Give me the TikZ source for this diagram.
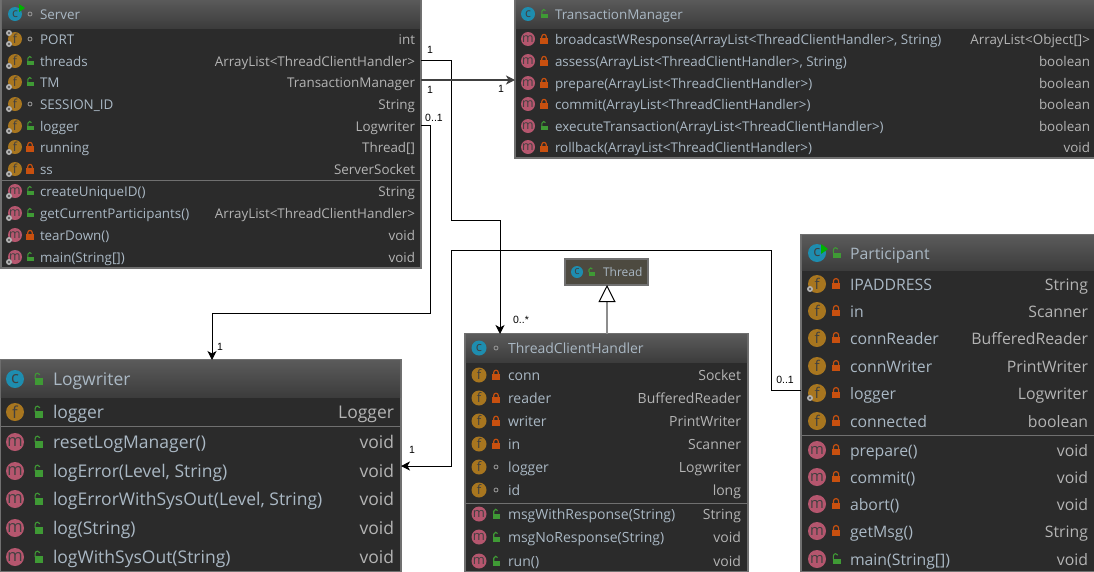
\documentclass[tikz,border=0pt]{standalone}
\usepackage{fontspec}
\setmainfont{Open Sans}
\newfontfamily\cardfont{Liberation Sans}
\usetikzlibrary{arrows.meta}
\definecolor{bodyc}{HTML}{2B2B2B}
\definecolor{edgec}{HTML}{707070}
\definecolor{headt}{HTML}{5A5A5A}
\definecolor{headb}{HTML}{3C3C3C}
\definecolor{namec}{HTML}{AAB8C4}
\definecolor{typec}{HTML}{B4B4B4}
\definecolor{iconc}{HTML}{1E8DAF}
\definecolor{iconf}{HTML}{A8761F}
\definecolor{iconm}{HTML}{B5566E}
\definecolor{lockg}{HTML}{3F9A35}
\definecolor{lockr}{HTML}{C8500F}
\definecolor{thrc}{HTML}{4D4A40}
\newcount\rowid
\newcommand{\fsz}{12.5}
\newcommand{\fszi}{11.5}
\newcommand{\bsl}{4}
\newcommand{\lks}{1}
\newcommand{\icr}{7}
\newcommand{\ix}{0}\newcommand{\lx}{0}\newcommand{\tx}{0}\newcommand{\rx}{0}
\newcommand{\setcols}[6]{\renewcommand{\ix}{#1}\renewcommand{\lx}{#2}\renewcommand{\tx}{#3}\renewcommand{\rx}{#4}\renewcommand{\icr}{#5}\renewcommand{\fsz}{#6}\pgfmathsetmacro\fszi{#6-1}\pgfmathsetmacro\bsl{0.35*#6+0.7}\pgfmathsetmacro\lks{#6/13.4}}
\newcommand{\fnt}{\fontsize{\fsz}{\fsz}\selectfont}
% access marker: o open lock, r closed lock, p package ring
\newcommand{\access}[3]{%
  \def\kind{#3}\def\kO{o}\def\kR{r}%
  \ifx\kind\kO
    \begin{scope}[shift={(#1,#2)},scale=\lks]
    \fill[lockg] (-2.6,-0.4) rectangle (4.2,4.4);
    \draw[lockg,line width=1.1pt] (-2.2,0) -- (-2.2,-2.6) arc[start angle=180,end angle=340,radius=1.9];
    \end{scope}
  \else\ifx\kind\kR
    \begin{scope}[shift={(#1,#2)},scale=\lks]
    \fill[lockr] (-3.6,-0.8) rectangle (3.6,4.6);
    \draw[lockr,line width=1.2pt] (-2.2,-0.8) -- (-2.2,-2.4) arc[start angle=180,end angle=360,radius=2.2] -- (2.2,-0.8);
    \end{scope}
  \else
    \draw[typec!80!black,line width=.9pt] (#1,#2) circle[radius=2];
  \fi\fi}
% small gear marker for static members
\newcommand{\statm}[2]{\fill[gray!60] (#1,#2) circle[radius=3]; \fill[bodyc!70!gray] (#1,#2) circle[radius=1.1];}
% #1 y, #2 icon letter, #3 access, #4 name, #5 type
\newcommand{\mrow}[5]{%
  \global\advance\rowid by 1
  \node[iconn,fill=icon#2,minimum size=2*\icr pt,font=\fontsize{\fszi}{\fszi}\selectfont] (ic\the\rowid) at (\ix,#1) {#2};
  \access{\lx}{#1}{#3}
  \node[rowtext,anchor=base west] (nm\the\rowid) at (\tx,#1+\bsl) {\fnt #4};
  \node[typetext,anchor=base east] (ty\the\rowid) at (\rx,#1+\bsl) {\fnt #5};}
\newcommand{\umlbox}[7]{% id x0 y0 x1 y1 headbottom fillc
  \pgfmathsetmacro\boxw{#4-#2}\pgfmathsetmacro\boxh{#5-#3}
  \node[boxn,fill=#7,minimum width=\boxw pt,minimum height=\boxh pt,anchor=north west] (#1) at (#2,#3) {};
  \ifdim #6pt>0pt
  \fill[top color=headt,bottom color=headb] (#2+.8,#3+.8) rectangle (#4-.8,#6);
  \fi}
\newcommand{\divider}[3]{\draw[edgec,line width=1pt] (#1,#3) -- (#2,#3);}
\tikzset{
  x=1pt,y=-1pt,
  boxn/.style={draw=edgec,line width=1.4pt,inner sep=0pt,outer sep=0pt},
  iconn/.style={circle,inner sep=0pt,outer sep=0pt,text=black!75},
  rowtext/.style={text=namec,inner sep=0pt,outer sep=0pt},
  typetext/.style={text=typec,inner sep=0pt,outer sep=0pt},
  conn/.style={black,line width=1pt,-{Stealth[length=9pt,width=9pt,inset=2.5pt]}},
  card/.style={black,inner sep=0pt,font=\cardfont\fontsize{10.5}{10.5}\selectfont},
}
\begin{document}
\begin{tikzpicture}
\useasboundingbox (0,0) rectangle (1094,571);
\fill[white] (0,0) rectangle (1094,571);
% ---------- Server
\umlbox{server}{1}{-1}{421}{268}{28}{bodyc}
\setcols{15}{30}{40}{415}{7}{13.4}
\mrow{14}{c}{p}{Server}{}
\fill[green!70!black] (19,4) -- (19,12) -- (25,8) -- cycle;
\mrow{39}{f}{p}{PORT}{int}\statm{9}{44}\statm{9}{33}
\mrow{61}{f}{o}{threads}{ArrayList<ThreadClientHandler>}\statm{9}{66}
\mrow{82}{f}{o}{TM}{TransactionManager}\statm{9}{87}
\mrow{104}{f}{p}{SESSION\_ID}{String}\statm{9}{109}
\mrow{126}{f}{o}{logger}{Logwriter}\statm{9}{131}
\mrow{147}{f}{r}{running}{Thread[]}\statm{9}{152}
\mrow{169}{f}{r}{ss}{ServerSocket}\statm{9}{174}
\divider{1}{421}{180}
\mrow{191}{m}{o}{createUniqueID()}{String}\statm{9}{196}
\mrow{213}{m}{o}{getCurrentParticipants()}{ArrayList<ThreadClientHandler>}\statm{9}{218}
\mrow{235}{m}{r}{tearDown()}{void}\statm{9}{240}
\mrow{257}{m}{o}{main(String[])}{void}\statm{9}{262}
% ---------- TransactionManager
\umlbox{tm}{515}{-1}{1095}{158}{28}{bodyc}
\setcols{528}{544}{555}{1090}{7}{13.4}
\mrow{14}{c}{o}{TransactionManager}{}
\mrow{39}{m}{r}{broadcastWResponse(ArrayList<ThreadClientHandler>, String)}{ArrayList<Object[]>}
\mrow{61}{m}{r}{assess(ArrayList<ThreadClientHandler>, String)}{boolean}
\mrow{83}{m}{r}{prepare(ArrayList<ThreadClientHandler>)}{boolean}
\mrow{104}{m}{r}{commit(ArrayList<ThreadClientHandler>)}{boolean}
\mrow{126}{m}{o}{executeTransaction(ArrayList<ThreadClientHandler>)}{boolean}
\mrow{147}{m}{r}{rollback(ArrayList<ThreadClientHandler>)}{void}
% ---------- Logwriter
\umlbox{log}{0}{360}{401}{572}{397}{bodyc}
\setcols{15}{38}{53}{394}{9}{17.5}
\mrow{379}{c}{o}{Logwriter}{}
\mrow{412}{f}{o}{logger}{Logger}
\divider{0}{401}{426}
\mrow{442}{m}{o}{resetLogManager()}{void}
\mrow{471}{m}{o}{logError(Level, String)}{void}
\mrow{499}{m}{o}{logErrorWithSysOut(Level, String)}{void}
\mrow{528}{m}{o}{log(String)}{void}
\mrow{557}{m}{o}{logWithSysOut(String)}{void}
% ---------- Thread
\umlbox{thr}{565}{259}{648}{285}{0}{thrc}
\setcols{577}{591}{603}{640}{6}{12}
\mrow{272}{c}{o}{Thread}{}
% ---------- ThreadClientHandler
\umlbox{tch}{465}{334}{748}{572}{362}{bodyc}
\setcols{479}{496}{508}{741}{7.5}{14}
\mrow{348}{c}{p}{ThreadClientHandler}{}
\mrow{375}{f}{r}{conn}{Socket}
\mrow{398}{f}{r}{reader}{BufferedReader}
\mrow{421}{f}{r}{writer}{PrintWriter}
\mrow{444}{f}{r}{in}{Scanner}
\mrow{467}{f}{p}{logger}{Logwriter}
\mrow{490}{f}{p}{id}{long}
\divider{465}{748}{503}
\mrow{514}{m}{o}{msgWithResponse(String)}{String}
\mrow{537}{m}{o}{msgNoResponse(String)}{void}
\mrow{561}{m}{o}{run()}{void}
% ---------- Participant
\umlbox{part}{801}{235}{1095}{572}{270}{bodyc}
\setcols{817}{836}{850}{1088}{9}{15.8}
\mrow{253}{c}{o}{Participant}{}
\fill[green!70!black] (821,244) -- (821,254) -- (828,249) -- cycle;
\mrow{284}{f}{r}{IPADDRESS}{String}\statm{810}{289}
\mrow{311}{f}{r}{in}{Scanner}
\mrow{338}{f}{r}{connReader}{BufferedReader}
\mrow{366}{f}{r}{connWriter}{PrintWriter}
\mrow{393}{f}{r}{logger}{Logwriter}\statm{810}{398}
\mrow{421}{f}{r}{connected}{boolean}
\divider{801}{1094}{435}
\mrow{450}{m}{r}{prepare()}{void}
\mrow{477}{m}{r}{commit()}{void}
\mrow{504}{m}{r}{abort()}{void}
\mrow{531}{m}{r}{getMsg()}{String}
\mrow{559}{m}{o}{main(String[])}{void}
% ---------- Connectors
\coordinate (yThreads) at (0,60);
\coordinate (yTM) at (0,80);
\coordinate (yLogger) at (0,125);
\coordinate (yPart) at (0,390);
\coordinate (yLog) at (0,466);
\coordinate (xTch) at (500,0);
\coordinate (xLog) at (212,0);
\coordinate (xThr) at (607,0);
\draw[conn] (server.east |- yThreads) -- (451,60) -- (451,220) -- (500,220) -- (tch.north -| xTch);
\draw[conn,line width=1.3pt,black!75] (server.east |- yTM) -- (tm.west |- yTM);
\draw[conn] (server.east |- yLogger) -- (430,125) -- (430,313) -- (212,313) -- (log.north -| xLog);
\draw[conn] (part.west |- yPart) -- (771,390) -- (771,250) -- (451,250) -- (451,466) -- (log.east |- yLog);
\draw[edgec!80,line width=1.6pt,-{Triangle[open,fill=white,length=17pt,width=17pt,line width=1pt,color=black]}] (tch.north -| xThr) -- (thr.south -| xThr);
% ---------- Cardinalities
\node[card] (c1) at (430,50) {1};
\node[card] (c2) at (430,90) {1};
\node[card] (c3) at (501,89) {1};
\node[card] (c4) at (434,118) {0..1};
\node[card] (c5) at (521,320) {0..*};
\node[card] (c6) at (220,347) {1};
\node[card] (c7) at (785,380) {0..1};
\node[card] (c8) at (412,450) {1};
\end{tikzpicture}
\end{document}
